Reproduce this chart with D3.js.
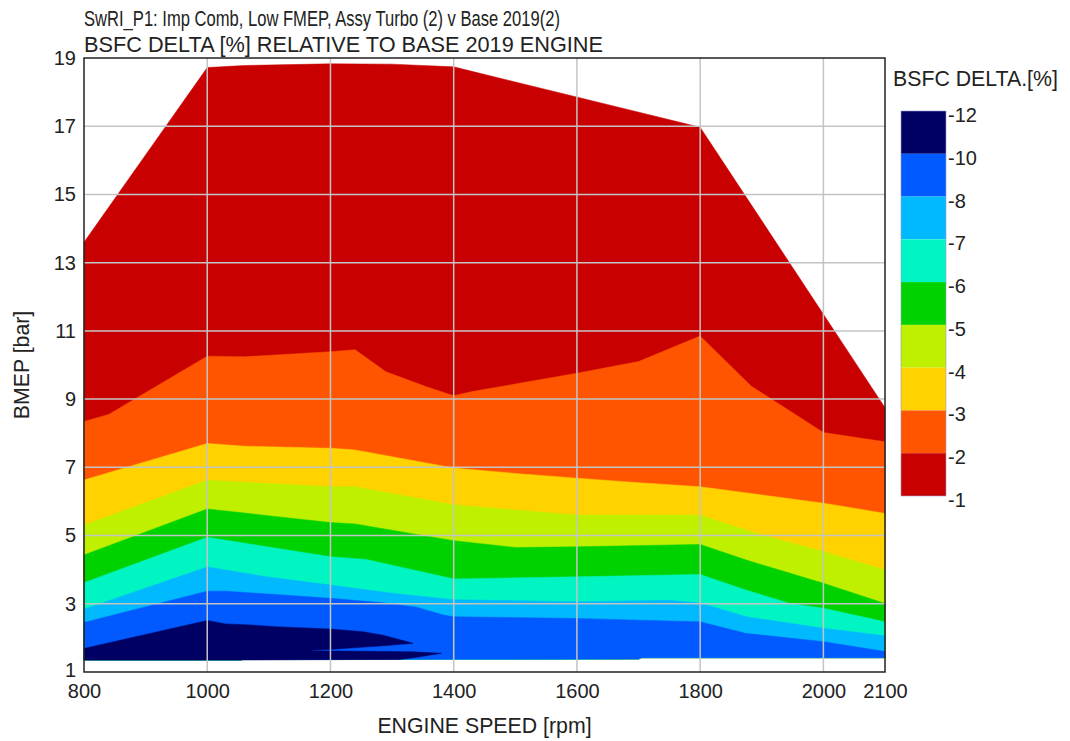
<!DOCTYPE html>
<html><head><meta charset="utf-8">
<script src="https://cdn.jsdelivr.net/npm/d3@7"></script>
<style>
html,body{margin:0;padding:0;background:#fff;}
svg{display:block;font-family:"Liberation Sans",Arial,sans-serif;}
</style></head>
<body><svg id="c" width="1070" height="741"></svg>
<script>
// ---- data ----
const titleLines = ["SwRI_P1: Imp Comb, Low FMEP, Assy Turbo (2) v Base 2019(2)",
                    "BSFC DELTA [%] RELATIVE TO BASE 2019 ENGINE"];
const xTitle = "ENGINE SPEED [rpm]";
const yTitle = "BMEP [bar]";
const legendTitle = "BSFC DELTA.[%]";
const speedTicks = [800, 1000, 1200, 1400, 1600, 1800, 2000, 2100];
const bmepTicks = [1, 3, 5, 7, 9, 11, 13, 15, 17, 19];
const levels = [-12, -10, -8, -7, -6, -5, -4, -3, -2, -1];
// band colours from most negative to least negative
const bandColors = ["#000064", "#005aff", "#00b9ff", "#00f5c3", "#00d200", "#bef000", "#ffd200", "#ff5500", "#c80000"];

// domain boundaries [rpm, bmep]
const bottomEdge = [[800,1.35],[1055,1.35],[1058,1.37],[1700,1.38],[1705,1.42],[2100,1.42]];
const topEdge = [[800,13.6],[1000,18.72],[1060,18.78],[1200,18.83],[1300,18.82],[1400,18.74],[1800,16.97],[2100,8.75]];
// contour lines
const lvlM2 = [[800,8.34],[840,8.55],[1000,10.26],[1060,10.24],[1200,10.39],[1240,10.45],[1290,9.8],[1356,9.36],[1400,9.1],[1430,9.22],[1600,9.76],[1700,10.1],[1800,10.85],[1883,9.38],[2000,8.02],[2100,7.75]];
const lvlM3 = [[800,6.63],[1000,7.7],[1060,7.62],[1200,7.56],[1240,7.51],[1400,6.98],[1500,6.82],[1600,6.68],[1700,6.55],[1800,6.43],[2000,5.95],[2100,5.65]];
const lvlM4 = [[800,5.31],[1000,6.62],[1200,6.43],[1240,6.43],[1400,5.9],[1600,5.6],[1800,5.6],[1890,5.07],[2000,4.53],[2100,3.99]];
const lvlM5 = [[800,4.43],[1000,5.78],[1200,5.38],[1240,5.34],[1400,4.85],[1500,4.65],[1600,4.67],[1800,4.74],[1875,4.28],[2000,3.6],[2100,3.01]];
const lvlM6 = [[800,3.62],[1000,4.95],[1200,4.38],[1258,4.3],[1400,3.73],[1600,3.79],[1800,3.86],[1875,3.4],[1946,3.01],[2000,2.87],[2100,2.47]];
const lvlM7 = [[800,2.84],[1000,4.08],[1096,3.79],[1200,3.55],[1300,3.31],[1400,3.12],[1600,3.06],[1750,3.1],[1800,3.02],[1875,2.62],[2000,2.28],[2100,2.06]];
const lvlM8 = [[800,2.45],[1000,3.37],[1031,3.37],[1200,3.16],[1285,3.03],[1340,2.9],[1383,2.67],[1400,2.62],[1600,2.57],[1700,2.52],[1800,2.47],[1875,2.13],[2000,1.89],[2100,1.6]];
// below -10 region outline
const navyOutline = [[800,1.35],[800,1.69],[1000,2.51],[1030,2.41],[1070,2.38],[1110,2.33],[1200,2.26],[1253,2.18],[1285,2.08],[1318,1.92],[1334,1.84],[1280,1.76],[1231,1.70],[1198,1.66],[1169,1.64],[1169,1.62],[1250,1.61],[1334,1.59],[1380,1.55],[1340,1.43],[1312,1.37],[1055,1.35]];

// ---- drawing ----
const svg = d3.select("#c");
const x = d3.scaleLinear().domain([800, 2100]).range([84, 885]);
const y = d3.scaleLinear().domain([1, 19]).range([672, 58]);
const poly = d3.line().x(d => x(d[0])).y(d => y(d[1])).curve(d3.curveLinearClosed);

const plot = svg.append("g");
// layered fills: each from bottom edge up to its upper boundary
const uppers = [topEdge, lvlM2, lvlM3, lvlM4, lvlM5, lvlM6, lvlM7, lvlM8];
const upperColors = [bandColors[8], bandColors[7], bandColors[6], bandColors[5], bandColors[4], bandColors[3], bandColors[2], bandColors[1]];
uppers.forEach((u, i) => {
  const pts = u.concat(bottomEdge.slice().reverse());
  plot.append("path").attr("d", poly(pts)).attr("fill", upperColors[i]).attr("stroke", upperColors[i]).attr("stroke-width", 0.5);
});
plot.append("path").attr("d", poly(navyOutline)).attr("fill", bandColors[0]).attr("stroke", bandColors[0]).attr("stroke-width", 0.5);

// grid
const grid = svg.append("g").attr("stroke", "#c4c4c4").attr("stroke-width", 1.5);
speedTicks.filter(v => v > 800 && v < 2100).forEach(v => {
  grid.append("line").attr("x1", x(v)).attr("x2", x(v)).attr("y1", y(19)).attr("y2", y(1));
});
bmepTicks.filter(v => v > 1 && v < 19).forEach(v => {
  grid.append("line").attr("y1", y(v)).attr("y2", y(v)).attr("x1", x(800)).attr("x2", x(2100));
});
// frame
svg.append("rect").attr("x", x(800)).attr("y", y(19)).attr("width", x(2100) - x(800)).attr("height", y(1) - y(19))
  .attr("fill", "none").attr("stroke", "#222").attr("stroke-width", 1.5);

// axes (labels only)
const xAxis = d3.axisBottom(x).tickValues(speedTicks).tickSize(0).tickPadding(12).tickFormat(d3.format("d"));
const gx = svg.append("g").attr("transform", `translate(0,${y(1)})`).call(xAxis);
gx.select(".domain").remove();
gx.selectAll("text").attr("font-size", 20).attr("fill", "#222").attr("font-family", "Liberation Sans, Arial, sans-serif");
const yAxis = d3.axisLeft(y).tickValues(bmepTicks).tickSize(0).tickPadding(8).tickFormat(d3.format("d"));
const gy = svg.append("g").attr("transform", `translate(${x(800)},0)`).call(yAxis);
gy.select(".domain").remove();
gy.selectAll("text").attr("font-size", 20).attr("fill", "#222").attr("font-family", "Liberation Sans, Arial, sans-serif")
  .attr("dy", d => d === 1 ? "0.22em" : "0.32em");

// titles
const titleWidths = [476, 519];
titleLines.forEach((t, i) => {
  svg.append("text").attr("x", 84).attr("y", 26 + i * 26).attr("font-size", 21.3).attr("fill", "#222")
    .attr("textLength", titleWidths[i]).attr("lengthAdjust", "spacingAndGlyphs").text(t);
});
svg.append("text").attr("x", (x(800) + x(2100)) / 2).attr("y", 733).attr("text-anchor", "middle")
  .attr("font-size", 21.3).attr("fill", "#222").text(xTitle);
svg.append("text").attr("transform", `translate(29,${(y(1) + y(19)) / 2}) rotate(-90)`).attr("text-anchor", "middle")
  .attr("font-size", 21.3).attr("fill", "#222").text(yTitle);

// legend
const lg = svg.append("g");
lg.append("text").attr("x", 893).attr("y", 86).attr("font-size", 21.3).attr("fill", "#222").text(legendTitle);
const ly = d3.scaleLinear().domain([0, bandColors.length]).range([111, 496]);
bandColors.forEach((c, i) => {
  lg.append("rect").attr("x", 901).attr("y", ly(i)).attr("width", 45).attr("height", ly(i + 1) - ly(i)).attr("fill", c);
});
lg.append("rect").attr("x", 901).attr("y", ly(0)).attr("width", 45).attr("height", ly(bandColors.length) - ly(0))
  .attr("fill", "none").attr("stroke", "#9a9ad0").attr("stroke-width", 0.6);
levels.forEach((v, i) => {
  lg.append("text").attr("x", 948).attr("y", ly(i) + 11).attr("font-size", 20).attr("fill", "#222").text(v);
});
</script></body></html>
